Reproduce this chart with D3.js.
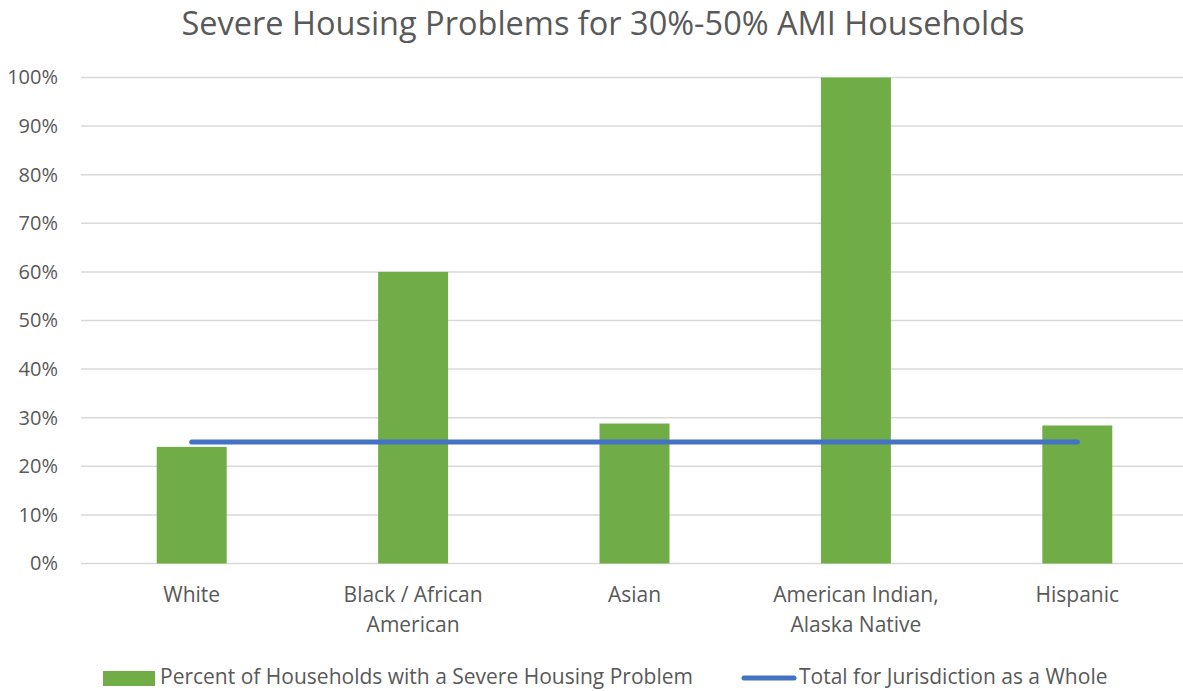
<!DOCTYPE html>
<html>
<head>
<meta charset="utf-8">
<script src="https://cdn.jsdelivr.net/npm/d3@7"></script>
<style>
  body { margin: 0; background: #fff; }
  text { font-family: "Open Sans", sans-serif; fill: #595959; }
</style>
</head>
<body>
<div id="chart"></div>
<script>
const categories = [['White'], ['Black / African', 'American'], ['Asian'], ['American Indian,', 'Alaska Native'], ['Hispanic']];
const barValues = [0.24, 0.60, 0.288, 1.00, 0.284];
const totalValue = 0.25;
const yTicks = [0, 0.1, 0.2, 0.3, 0.4, 0.5, 0.6, 0.7, 0.8, 0.9, 1.0];
const barLabel = 'Percent of Households with a Severe Housing Problem';
const lineLabel = 'Total for Jurisdiction as a Whole';
const title = 'Severe Housing Problems for 30%-50% AMI Households';

const width = 1183, height = 691;
const plot = { left: 81, right: 1188, top: 77.5, bottom: 563.5 };

const svg = d3.select('#chart').append('svg')
    .attr('width', width)
    .attr('height', height);

svg.append('text')
    .attr('x', 603)
    .attr('y', 35)
    .attr('text-anchor', 'middle')
    .style('font-size', '32.5px')
    .text(title);

const keys = categories.map((c, i) => i);
const xScale = d3.scaleBand()
    .domain(keys)
    .range([plot.left, plot.right])
    .paddingInner(0.684)
    .paddingOuter(0.342);

const yScale = d3.scaleLinear()
    .domain([0, 1])
    .range([plot.bottom, plot.top]);

// gridlines (stop at the picture edge)
svg.selectAll('line.grid').data(yTicks)
    .enter().append('line')
    .attr('class', 'grid')
    .attr('x1', plot.left)
    .attr('x2', width)
    .attr('y1', d => yScale(d))
    .attr('y2', d => yScale(d))
    .attr('stroke', '#d9d9d9')
    .attr('stroke-width', 1.5);

// y labels
const pct = d3.format('.0%');
svg.selectAll('text.ytick').data(yTicks)
    .enter().append('text')
    .attr('class', 'ytick')
    .attr('x', plot.left - 23)
    .attr('y', d => yScale(d))
    .attr('dy', '0.34em')
    .attr('text-anchor', 'end')
    .style('font-size', '20px')
    .text(pct);

// bars
svg.selectAll('rect.bar').data(barValues)
    .enter().append('rect')
    .attr('class', 'bar')
    .attr('x', (d, i) => xScale(i))
    .attr('y', d => yScale(d))
    .attr('width', xScale.bandwidth())
    .attr('height', d => yScale(0) - yScale(d))
    .attr('fill', '#70ad47');

// total line
const line = d3.line()
    .x(d => xScale(d) + xScale.bandwidth() / 2)
    .y(() => yScale(totalValue));

svg.append('path')
    .datum(keys)
    .attr('d', line)
    .attr('fill', 'none')
    .attr('stroke', '#4472c4')
    .attr('stroke-width', 5)
    .attr('stroke-linecap', 'round');

// category labels
const xLabels = svg.selectAll('text.cat').data(categories)
    .enter().append('text')
    .attr('class', 'cat')
    .attr('text-anchor', 'middle')
    .attr('transform', (d, i) => `translate(${xScale(i) + xScale.bandwidth() / 2},${plot.bottom + 38})`)
    .style('font-size', '21px');

xLabels.selectAll('tspan').data(d => d)
    .enter().append('tspan')
    .attr('x', 0)
    .attr('dy', (d, i) => i === 0 ? 0 : 30)
    .text(d => d);

// legend
const legend = svg.append('g');
legend.append('rect')
    .attr('x', 103).attr('y', 671)
    .attr('width', 52).attr('height', 15)
    .attr('fill', '#70ad47');
legend.append('text')
    .attr('x', 160).attr('y', 684)
    .style('font-size', '21px')
    .text(barLabel);
legend.append('line')
    .attr('x1', 744).attr('x2', 794)
    .attr('y1', 678).attr('y2', 678)
    .attr('stroke', '#4472c4')
    .attr('stroke-width', 5)
    .attr('stroke-linecap', 'round');
legend.append('text')
    .attr('x', 799).attr('y', 684)
    .style('font-size', '21px')
    .text(lineLabel);
</script>
</body>
</html>
